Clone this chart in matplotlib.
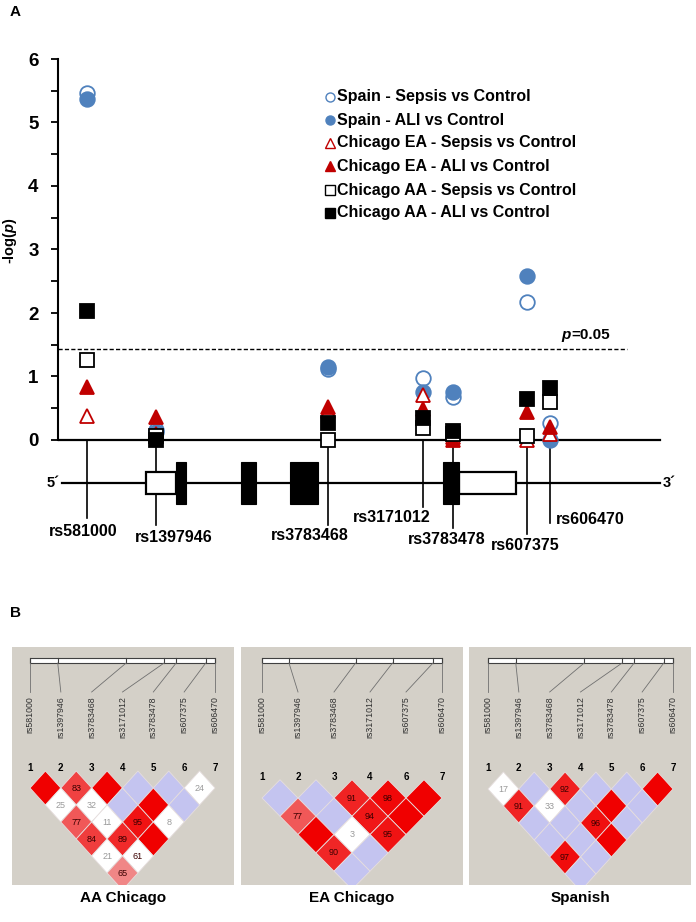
import matplotlib.pyplot as plt
from matplotlib.patches import Rectangle, Polygon

plt.rcParams['font.family'] = ['Liberation Sans', 'DejaVu Sans']
plt.rcParams['mathtext.fontset'] = 'custom'
plt.rcParams['mathtext.rm'] = 'Liberation Sans:bold'
plt.rcParams['mathtext.bf'] = 'Liberation Sans:bold'
plt.rcParams['mathtext.it'] = 'Liberation Sans:bold:italic'

# ---------------- panel A data ----------------
snps = ['rs581000', 'rs1397946', 'rs3783468', 'rs3171012',
        'rs3783478', 'rs607375', 'rs606470']
snp_pos = [0, 15, 52, 72.5, 79, 95, 100]   # relative position along the gene

spain_sepsis = [5.46, 0.15, 1.12, 0.97, 0.68, 2.17, 0.27]
spain_ali = [5.37, 0.12, 1.15, 0.76, 0.76, 2.58, 0.00]
ea_sepsis = [0.38, 0.10, 0.45, 0.71, 0.05, 0.00, 0.10]
ea_ali = [0.83, 0.36, 0.52, 0.49, 0.00, 0.44, 0.20]
aa_sepsis = [1.26, 0.06, 0.00, 0.19, 0.10, 0.06, 0.60]
aa_ali = [2.03, 0.00, 0.27, 0.35, 0.14, 0.64, 0.82]

series_labels = ['Spain - Sepsis vs Control', 'Spain - ALI vs Control',
                 'Chicago EA - Sepsis vs Control', 'Chicago EA - ALI vs Control',
                 'Chicago AA - Sepsis vs Control', 'Chicago AA - ALI vs Control']

threshold = 1.43

# gene model (same relative units as snp_pos)
gene_span = (-5.4, 123.8)
utr5 = (12.7, 19.2)
exons = [(19.2, 21.4), (33.3, 36.5), (43.8, 49.9), (76.9, 80.3)]
utr3 = (80.3, 92.7)

# ---------------- panel B data (D' x100, by distance between markers) ----------------
aa_nums = [1, 2, 3, 4, 5, 6, 7]
aa_names = snps
aa_gpos = snp_pos
aa_d = [[100, 83, 100, 100, 100, 24],
        [25, 32, 100, 100, 100],
        [77, 11, 95, 8],
        [84, 89, 100],
        [21, 61],
        [65]]
aa_kind = [['r', 'r', 'r', 'b', 'b', 'w'],
           ['w', 'w', 'b', 'r', 'b'],
           ['r', 'w', 'r', 'w'],
           ['r', 'r', 'r'],
           ['w', 'w'],
           ['r']]

ea_nums = [1, 2, 3, 4, 6, 7]
ea_names = ['rs581000', 'rs1397946', 'rs3783468', 'rs3171012', 'rs607375', 'rs606470']
ea_gpos = [0, 15, 52, 72.5, 95, 100]
ea_d = [[100, 100, 91, 98, 100],
        [77, 100, 94, 100],
        [100, 3, 95],
        [90, 100],
        [100]]
ea_kind = [['b', 'b', 'r', 'r', 'r'],
           ['r', 'b', 'r', 'r'],
           ['r', 'w', 'r'],
           ['r', 'b'],
           ['b']]

sp_nums = [1, 2, 3, 4, 5, 6, 7]
sp_names = snps
sp_gpos = snp_pos
sp_d = [[17, 100, 92, 100, 100, 100],
        [91, 33, 100, 100, 100],
        [100, 100, 96, 100],
        [100, 100, 100],
        [97, 100],
        [100]]
sp_kind = [['w', 'b', 'r', 'b', 'b', 'r'],
           ['r', 'w', 'b', 'r', 'b'],
           ['b', 'b', 'r', 'b'],
           ['b', 'b', 'r'],
           ['r', 'b'],
           ['b']]

BLUE = '#4F81BD'
RED = '#C00000'
W, H = 696, 922

fig = plt.figure(figsize=(6.96, 9.22), dpi=100)


# pixel helpers for panel A (x: gene units, y: -log p)
def ux(px):
    return (px - 87) / 4.63


def uy(py):
    return (440 - py) / 63.5


ax = fig.add_axes([58 / W, 1 - 550 / H, (690 - 58) / W, (550 - 59) / H])
ax.set_xlim(ux(58), ux(690))
ax.set_ylim(uy(550), 6)
for s in ['top', 'right', 'bottom']:
    ax.spines[s].set_visible(False)
ax.spines['left'].set_bounds(0, 6)
ax.spines['left'].set_linewidth(1.5)
ax.set_xticks([])
ax.set_yticks(range(7))
ax.set_yticks([0.5, 1.5, 2.5, 3.5, 4.5, 5.5], minor=True)
ax.tick_params(axis='y', which='both', direction='out', length=5, width=1.3, pad=9)
ax.tick_params(axis='y', labelsize=13.5)
for t in ax.get_yticklabels():
    t.set_fontweight('bold')

ax.plot([ux(58), gene_span[1]], [0, 0], color='black', lw=1.6, zorder=3)
ax.plot([ux(58), ux(627)], [threshold, threshold], color='black', lw=1,
        dashes=(3, 1.6))
ax.text(ux(571), uy(335), 'p', style='italic', fontweight='bold', fontsize=11,
        ha='right', va='center')
ax.text(ux(571), uy(335), '=0.05', fontweight='bold', fontsize=11,
        ha='left', va='center')

# SNP stems and labels
stem_bottom = [518, 525, 525, 507, 528, 534, 523]
label_px = [(83, 532), (174, 537), (310, 536), (392, 518),
            (447, 539), (525, 546), (590, 520)]
for name, p, yb, (lx, ly) in zip(snps, snp_pos, stem_bottom, label_px):
    ax.plot([p, p], [0, uy(yb)], color='black', lw=1.2, zorder=1)
    ax.text(ux(lx), uy(ly), name, fontsize=11.5, fontweight='bold',
            ha='center', va='center')

# gene model
gy = uy(483)
ax.plot(gene_span, [gy, gy], color='black', lw=1.6, zorder=1)
for a, b in [utr5, utr3]:
    ax.add_patch(Rectangle((a, gy - 0.17), b - a, 0.34, facecolor='white',
                           edgecolor='black', lw=1.6, zorder=2))
for a, b in exons:
    ax.add_patch(Rectangle((a, gy - 0.335), b - a, 0.67, facecolor='black',
                           edgecolor='black', lw=0.8, zorder=2))
ax.text(ux(53), gy, '5\u00b4', fontsize=10.5, fontweight='bold', ha='center', va='center')
ax.text(ux(669), gy, '3\u00b4', fontsize=10.5, fontweight='bold', ha='center', va='center')

series = [
    (spain_sepsis, 'o', 'white', BLUE),
    (spain_ali, 'o', BLUE, BLUE),
    (ea_sepsis, '^', 'white', RED),
    (ea_ali, '^', RED, RED),
    (aa_sepsis, 's', 'white', 'black'),
    (aa_ali, 's', 'black', 'black'),
]
leg_rows = [97, 120, 143, 166, 190, 213]
for k, ((vals, mk, fc, ec), lab, ly) in enumerate(zip(series, series_labels, leg_rows)):
    ax.plot(snp_pos, vals, linestyle='none', marker=mk, ms=10.5,
            markerfacecolor=fc, markeredgecolor=ec, markeredgewidth=1.3,
            zorder=4 + k, clip_on=False)
    ax.plot([ux(330)], [uy(ly)], linestyle='none', marker=mk, ms=6.5,
            markerfacecolor=fc, markeredgecolor=ec, markeredgewidth=1)
    ax.text(ux(337), uy(ly), lab, fontsize=11.5, fontweight='bold',
            ha='left', va='center')

fig.text(10 / W, 1 - 241 / H, r'-log($\mathit{p}$)', rotation=90, fontsize=10.5,
         fontweight='bold', ha='center', va='center')
fig.text(15 / W, 1 - 12 / H, 'A', fontsize=11, fontweight='bold', ha='center', va='center')
fig.text(15 / W, 1 - 613 / H, 'B', fontsize=11, fontweight='bold', ha='center', va='center')


# ---------------- panel B ----------------
def ld_color(d, kind):
    if kind == 'b':
        return '#c4c4f0'
    if kind == 'w':
        return 'white'
    f = min(1.0, 1.6 * (1 - d / 100))
    return (0.94, 0.94 * f, 0.94 * f)


def draw_ld(left, nums, names, gpos, dvals, kinds, x0, dx, y_num, row0, dy, title):
    bw, bh, top = 222, 238, 647
    axb = fig.add_axes([left / W, 1 - (top + bh) / H, bw / W, bh / H])
    axb.set_xlim(0, bw)
    axb.set_ylim(bh, 0)
    axb.set_facecolor('#d4d0c8')
    for s in axb.spines.values():
        s.set_visible(False)
    axb.set_xticks([])
    axb.set_yticks([])

    n = len(nums)
    xs = [x0 + i * dx for i in range(n)]
    span = xs[-1] - xs[0]
    g0, g1 = gpos[0], gpos[-1]
    ticks = [xs[0] + (g - g0) / (g1 - g0) * span for g in gpos]
    axb.add_patch(Rectangle((xs[0], 11), span, 5, facecolor='white',
                            edgecolor='#404040', lw=0.8))
    for tx, nx, name, num in zip(ticks, xs, names, nums):
        axb.plot([tx, tx], [11, 16], color='#404040', lw=0.8)
        axb.plot([tx, nx], [16, 45], color='#707070', lw=0.6)
        axb.text(nx, 49, name, rotation=90, ha='center', va='top',
                 fontsize=6.3, color='#303030')
        axb.text(nx, y_num, str(num), ha='center', va='center',
                 fontsize=7, fontweight='bold', color='black')

    hw = dx / 2
    hh = dy
    for r, (row_d, row_k) in enumerate(zip(dvals, kinds)):
        for a, (d, kd) in enumerate(zip(row_d, row_k)):
            b = a + r + 1
            cx = (xs[a] + xs[b]) / 2
            cy = row0 + r * dy
            poly = Polygon([(cx - hw, cy), (cx, cy - hh), (cx + hw, cy), (cx, cy + hh)],
                           closed=True, facecolor=ld_color(d, kd),
                           edgecolor='#e6dede', lw=0.6)
            axb.add_patch(poly)
            if d < 100:
                tc = '#9a9a9a' if (kd == 'w' and d < 50) else '#3a0000'
                axb.text(cx, cy, str(d), ha='center', va='center',
                         fontsize=6.5, color=tc)
    fig.text((left + bw / 2) / W, 1 - 898 / H, title, fontsize=11,
             fontweight='bold', ha='center', va='center')


draw_ld(12, aa_nums, aa_names, aa_gpos, aa_d, aa_kind, 18, 30.83, 121, 141, 17, 'AA Chicago')
draw_ld(241, ea_nums, ea_names, ea_gpos, ea_d, ea_kind, 21, 36.0, 130, 151, 18.3, 'EA Chicago')
draw_ld(469, sp_nums, sp_names, sp_gpos, sp_d, sp_kind, 19, 30.83, 121, 142, 17, 'Spanish')

fig.savefig('out.png', dpi=100)
